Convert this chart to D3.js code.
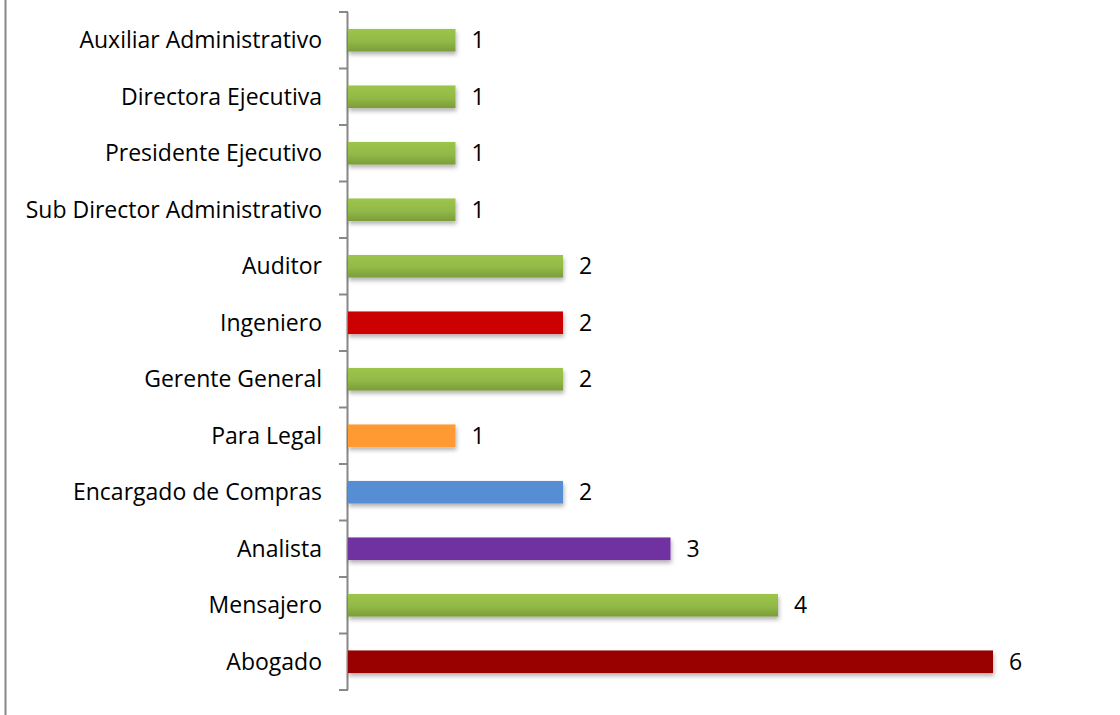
<!DOCTYPE html>
<html>
<head>
<meta charset="utf-8">
<script src="https://cdn.jsdelivr.net/npm/d3@7"></script>
<style>
  body { margin: 0; background: #fff; }
  svg { display: block; }
  text { font-family: "Open Sans", Lato, sans-serif; fill: #000; }
</style>
</head>
<body>
<div id="chart"></div>
<script>
// chart data, top to bottom
const categories = [
  'Auxiliar Administrativo', 'Directora Ejecutiva', 'Presidente Ejecutivo',
  'Sub Director Administrativo', 'Auditor', 'Ingeniero', 'Gerente General',
  'Para Legal', 'Encargado de Compras', 'Analista', 'Mensajero', 'Abogado'
];
const values = [1, 1, 1, 1, 2, 2, 2, 1, 2, 3, 4, 6];
const colorKeys = ['green', 'green', 'green', 'green', 'green', 'red', 'green',
  'orange', 'blue', 'purple', 'green', 'darkred'];

const width = 1120;
const height = 715;
const margin = { top: 12, right: 127, bottom: 25, left: 348 };

const svg = d3.select('#chart')
  .append('svg')
  .attr('width', width)
  .attr('height', height);

const defs = svg.append('defs');

// green bars have a soft vertical gradient
const grad = defs.append('linearGradient')
  .attr('id', 'greenGrad')
  .attr('x1', 0).attr('y1', 0).attr('x2', 0).attr('y2', 1);
grad.append('stop').attr('offset', '0%').attr('stop-color', '#9cc54b');
grad.append('stop').attr('offset', '55%').attr('stop-color', '#92b946');
grad.append('stop').attr('offset', '100%').attr('stop-color', '#7b9c3b');

const shadow = defs.append('filter')
  .attr('id', 'shadow')
  .attr('x', '-5%').attr('y', '-30%').attr('width', '110%').attr('height', '180%');
shadow.append('feDropShadow')
  .attr('dx', 1).attr('dy', 3).attr('stdDeviation', 2)
  .attr('flood-color', '#000').attr('flood-opacity', 0.3);

const fills = {
  green: 'url(#greenGrad)',
  red: '#cc0000',
  darkred: '#990000',
  orange: '#ff9933',
  blue: '#558ed5',
  purple: '#7030a0'
};

// outer frame line on the left
svg.append('line')
  .attr('x1', 5.5).attr('x2', 5.5)
  .attr('y1', 0).attr('y2', height)
  .attr('stroke', '#888').attr('stroke-width', 2);

const x = d3.scaleLinear()
  .domain([0, 6])
  .range([margin.left, width - margin.right]);

const y = d3.scaleBand()
  .domain(categories)
  .range([margin.top, height - margin.bottom])
  .paddingInner(0.6)
  .paddingOuter(0.3);

// band boundaries for tick marks
const step = y.step();
const bounds = d3.range(categories.length + 1).map(i => margin.top + i * step);

const axis = svg.append('g');
axis.append('line')
  .attr('x1', margin.left - 0.5).attr('x2', margin.left - 0.5)
  .attr('y1', margin.top).attr('y2', height - margin.bottom)
  .attr('stroke', '#888').attr('stroke-width', 2);
axis.selectAll('.tick')
  .data(bounds)
  .enter().append('line')
  .attr('x1', margin.left - 9).attr('x2', margin.left)
  .attr('y1', d => d).attr('y2', d => d)
  .attr('stroke', '#888').attr('stroke-width', 2);

axis.selectAll('.cat')
  .data(categories)
  .enter().append('text')
  .attr('x', margin.left - 26)
  .attr('y', d => y(d) + y.bandwidth() / 2)
  .attr('dy', '0.35em')
  .attr('text-anchor', 'end')
  .style('font-size', '23px')
  .text(d => d);

const bars = svg.selectAll('.bar')
  .data(categories)
  .enter().append('rect')
  .attr('x', x(0))
  .attr('y', d => y(d))
  .attr('width', (d, i) => x(values[i]) - x(0))
  .attr('height', y.bandwidth())
  .attr('fill', (d, i) => fills[colorKeys[i]])
  .attr('filter', 'url(#shadow)');

svg.selectAll('.val')
  .data(categories)
  .enter().append('text')
  .attr('x', (d, i) => x(values[i]) + 16)
  .attr('y', d => y(d) + y.bandwidth() / 2)
  .attr('dy', '0.35em')
  .style('font-size', '23px')
  .text((d, i) => values[i]);
</script>
</body>
</html>
